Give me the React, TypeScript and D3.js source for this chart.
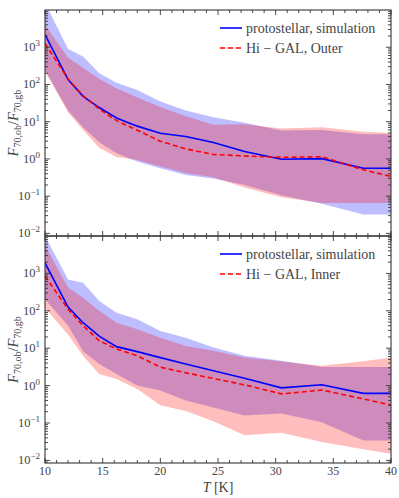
import { useRef, useEffect } from 'react';
import * as d3 from 'd3';

// temperature bins (K)
const T = [10, 12, 13.3, 14.7, 16.2, 18, 20, 22.2, 24.6, 27.3, 30.5, 34, 37.6, 40];

// outer galaxy panel
const simOuter = [2190, 135, 48, 24, 12.6, 7.6, 4.9, 4.0, 2.75, 1.58, 0.98, 1.02, 0.56, 0.56];
const simOuterHi = [15800, 890, 560, 200, 112, 71, 35, 20, 13.2, 9.3, 5.8, 6.0, 4.6, 4.6];
const simOuterLo = [250, 20, 7.1, 2.8, 1.41, 0.85, 0.56, 0.37, 0.30, 0.20, 0.105, 0.063, 0.032, 0.032];
const obsOuter = [1260, 141, 50, 22, 10.7, 5.9, 3.0, 1.86, 1.32, 1.2, 1.1, 1.15, 0.51, 0.34];
const obsOuterHi = [4000, 525, 280, 141, 79, 45, 25, 14, 8.3, 8.5, 6.6, 7.1, 5.4, 5.0];
const obsOuterLo = [224, 17.8, 6.0, 2.0, 1.12, 0.93, 0.63, 0.42, 0.32, 0.17, 0.093, 0.066, 0.066, 0.066];

// inner galaxy panel
const simInner = [1900, 126, 48, 21, 11, 8.1, 5.6, 3.8, 2.5, 1.58, 0.87, 1.05, 0.62, 0.62];
const simInnerHi = [10000, 690, 560, 182, 89, 59, 29, 19, 10.5, 6.3, 4.6, 3.16, 3.16, 3.16];
const simInnerLo = [204, 40, 8.3, 3.8, 2.04, 1.0, 0.74, 0.40, 0.26, 0.158, 0.178, 0.105, 0.034, 0.034];
const obsInner = [850, 110, 40, 15.8, 9.5, 6.3, 3.1, 2.2, 1.55, 1.05, 0.60, 0.76, 0.44, 0.30];
const obsInnerHi = [5600, 417, 224, 100, 48, 32, 19, 11.5, 8.5, 5.6, 4.4, 3.4, 4.5, 5.6];
const obsInnerLo = [120, 23, 6.3, 2.04, 1.51, 0.81, 0.30, 0.21, 0.112, 0.047, 0.055, 0.031, 0.020, 0.015];

const xTicks = [10, 15, 20, 25, 30, 35, 40];
const yTicks = [-2, -1, 0, 1, 2, 3];

const W = 399, H = 498;
const FONT = 'Liberation Serif';
const INK = '#444';

export default function App() {
  const svgRef = useRef(null);

  useEffect(() => {
    const svg = d3.select(svgRef.current);
    svg.selectAll('*').remove();

    const x = d3.scaleLinear().domain([10, 40]).range([45, 391]);

    const panels = [
      { top: 10, bottom: 236, label: 'Hi \u2212 GAL, Outer', sim: simOuter, simHi: simOuterHi, simLo: simOuterLo, obs: obsOuter, obsHi: obsOuterHi, obsLo: obsOuterLo },
      { top: 236, bottom: 463, label: 'Hi \u2212 GAL, Inner', sim: simInner, simHi: simInnerHi, simLo: simInnerLo, obs: obsInner, obsHi: obsInnerHi, obsLo: obsInnerLo },
    ];

    panels.forEach((p, pi) => {
      const y = d3.scaleLog().domain([Math.pow(10, -2.07), 1e4]).range([p.bottom, p.top]);
      const g = svg.append('g');
      const clipId = `clip${pi}`;
      g.append('clipPath').attr('id', clipId).append('rect')
        .attr('x', 45).attr('y', p.top).attr('width', 346).attr('height', p.bottom - p.top);
      const plot = g.append('g').attr('clip-path', `url(#${clipId})`);

      const band = (hi, lo) => d3.area().x((_, i) => x(T[i])).y0((_, i) => y(lo[i])).y1(d => y(d))(hi);
      const line = d3.line().x((_, i) => x(T[i])).y(d => y(d));

      plot.append('path').attr('d', band(p.simHi, p.simLo)).attr('fill', '#0000ff').attr('fill-opacity', 0.26);
      plot.append('path').attr('d', band(p.obsHi, p.obsLo)).attr('fill', '#ff0000').attr('fill-opacity', 0.26);
      plot.append('path').attr('d', line(p.sim)).attr('fill', 'none').attr('stroke', '#0000ff').attr('stroke-width', 1.6);
      plot.append('path').attr('d', line(p.obs)).attr('fill', 'none').attr('stroke', '#ff0000')
        .attr('stroke-width', 1.6).attr('stroke-dasharray', '5,3');

      // ticks, pointing inward on all four sides
      const tk = g.append('g').attr('stroke', '#333').attr('stroke-width', 0.9);
      d3.range(10, 41).forEach(v => {
        const len = v % 5 === 0 ? 5 : 3;
        tk.append('line').attr('x1', x(v)).attr('x2', x(v)).attr('y1', p.bottom).attr('y2', p.bottom - len);
        tk.append('line').attr('x1', x(v)).attr('x2', x(v)).attr('y1', p.top).attr('y2', p.top + len);
      });
      for (let e = -3; e < 4; e++) {
        for (let m = 1; m < 10; m++) {
          const v = m * Math.pow(10, e);
          const yy = y(v);
          if (yy > p.bottom + 0.1 || yy < p.top - 0.1) continue;
          const len = m === 1 ? 5 : 3;
          tk.append('line').attr('x1', 45).attr('x2', 45 + len).attr('y1', yy).attr('y2', yy);
          tk.append('line').attr('x1', 391).attr('x2', 391 - len).attr('y1', yy).attr('y2', yy);
        }
      }
      g.append('rect').attr('x', 45).attr('y', p.top).attr('width', 346).attr('height', p.bottom - p.top)
        .attr('fill', 'none').attr('stroke', '#333').attr('stroke-width', 1.1);

      const txt = (sel) => sel.attr('font-family', FONT).attr('fill', INK);

      // y tick labels
      yTicks.forEach(e => {
        const t = txt(g.append('text')).attr('x', 40).attr('y', y(Math.pow(10, e)) + 4)
          .attr('text-anchor', 'end').attr('font-size', 12.5);
        t.append('tspan').text('10');
        t.append('tspan').attr('dy', -5).attr('font-size', 9).text(e < 0 ? `\u2212${-e}` : `${e}`);
      });

      // y label
      const cy = (p.top + p.bottom) / 2;
      const yl = txt(g.append('text')).attr('transform', `translate(18,${cy}) rotate(-90)`)
        .attr('text-anchor', 'middle').attr('font-size', 14.5);
      yl.append('tspan').attr('font-style', 'italic').text('F');
      yl.append('tspan').attr('dy', 3).attr('font-size', 10).text('70,ob');
      yl.append('tspan').attr('dy', -3).text('/');
      yl.append('tspan').attr('font-style', 'italic').text('F');
      yl.append('tspan').attr('dy', 3).attr('font-size', 10).text('70,gb');

      // legend
      const ly = p.top + 18;
      const entries = [
        { text: 'protostellar, simulation', color: '#0000ff', dash: null },
        { text: p.label, color: '#ff0000', dash: '5,3' },
      ];
      entries.forEach((en, i) => {
        const yy = ly + i * 20;
        g.append('line').attr('x1', 220).attr('x2', 242).attr('y1', yy).attr('y2', yy)
          .attr('stroke', en.color).attr('stroke-width', 1.6).attr('stroke-dasharray', en.dash);
        txt(g.append('text')).attr('x', 246).attr('y', yy + 4.5)
          .attr('font-size', 14).text(en.text);
      });

      if (pi === 1) {
        xTicks.forEach(v => {
          txt(g.append('text')).attr('x', x(v)).attr('y', p.bottom + 11.5).attr('text-anchor', 'middle')
            .attr('font-size', 12).text(v);
        });
        const xl = txt(g.append('text')).attr('x', 218).attr('y', 492).attr('text-anchor', 'middle')
          .attr('font-size', 14);
        xl.append('tspan').attr('font-style', 'italic').text('T');
        xl.append('tspan').text(' [K]');
      }
    });
  }, []);

  return (
    <svg ref={svgRef} width={W} height={H}
      style={{ position: 'absolute', left: 0, top: 0, background: '#fff' }} />
  );
}
